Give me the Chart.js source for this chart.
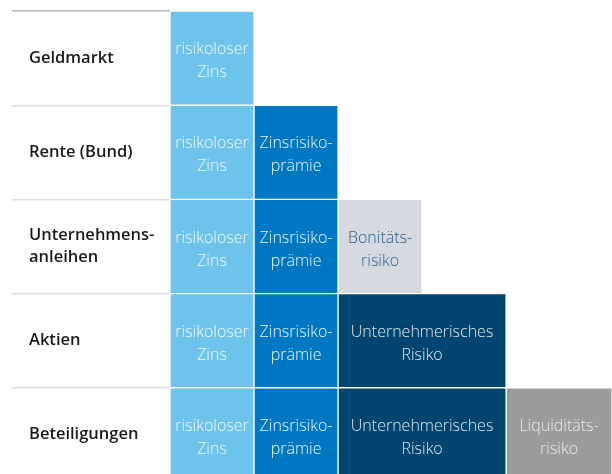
<!DOCTYPE html>
<html>
<head>
<meta charset="utf-8">
<script src="https://cdn.jsdelivr.net/npm/chart.js@4.4.1/dist/chart.umd.min.js"></script>
<style>
html, body { margin: 0; padding: 0; overflow: hidden; background: #fff; }
canvas { display: block; }
</style>
</head>
<body>
<canvas id="chart" width="612" height="493"></canvas>
<script>
// Zeilen (Anlageklassen)
const categories = ['Geldmarkt', 'Rente (Bund)', ['Unternehmens-', 'anleihen'], 'Aktien', 'Beteiligungen'];

// Risikobausteine je Zeile (Breite in Bausteinen)
const risikolos = [1, 1, 1, 1, 1];
const zinsrisiko = [null, 1, 1, 1, 1];
const bonitaet = [null, null, 1, null, null];
const unternehmerisch = [null, null, null, 2, 2];
const liquiditaet = [null, null, null, null, 1.26];

const segmentLabels = [
    ['risikoloser', 'Zins'],
    ['Zinsrisiko-', 'prämie'],
    ['Bonitäts-', 'risiko'],
    ['Unternehmerisches', 'Risiko'],
    ['Liquiditäts-', 'risiko']
];
const segmentColors = ['#6ec3ea', '#0078c1', '#d5dae0', '#00456f', '#9b9b9b'];
const textColors = ['rgba(255,255,255,0.92)', 'rgba(255,255,255,0.92)', '#2b5e88', 'rgba(255,255,255,0.88)', '#ececec'];

// Beschriftung mitten in die Bausteine schreiben
const barText = {
    id: 'barText',
    afterDatasetsDraw(chart) {
        const ctx = chart.ctx;
        ctx.save();
        ctx.font = '300 16px "Open Sans"';
        ctx.textAlign = 'center';
        ctx.textBaseline = 'middle';
        chart.data.datasets.forEach((ds, i) => {
            const meta = chart.getDatasetMeta(i);
            meta.data.forEach((bar, j) => {
                if (ds.data[j] == null) return;
                const cx = (bar.x + bar.base) / 2;
                const lines = segmentLabels[i];
                ctx.fillStyle = textColors[i];
                lines.forEach((t, k) => {
                    ctx.fillText(t, cx, bar.y + 3 + (k - (lines.length - 1) / 2) * 23);
                });
            });
        });
        ctx.restore();
    }
};

const sets = [risikolos, zinsrisiko, bonitaet, unternehmerisch, liquiditaet];

new Chart(document.getElementById('chart').getContext('2d'), {
    type: 'bar',
    data: {
        labels: categories,
        datasets: sets.map((d, i) => ({
            label: segmentLabels[i].join(''),
            data: d,
            backgroundColor: segmentColors[i],
            borderColor: '#ffffff',
            borderWidth: 1,
            borderSkipped: false,
            barPercentage: 1,
            categoryPercentage: 1
        }))
    },
    options: {
        indexAxis: 'y',
        responsive: false,
        animation: false,
        layout: { padding: { left: 29, top: 11, right: 0, bottom: 0 } },
        scales: {
            x: { stacked: true, display: false, min: 0, max: 5.26 },
            y: {
                stacked: true,
                border: { display: false },
                grid: {
                    drawOnChartArea: false,
                    drawTicks: true,
                    offset: true,
                    tickLength: 158,
                    lineWidth: 1.5,
                    color: (c) => c.index === 0 ? '#b8b8b8' : '#d9dde3'
                },
                ticks: {
                    crossAlign: 'far',
                    padding: 0,
                    color: '#1a1a1a',
                    font: { family: 'Open Sans', size: 16.5, weight: '600', lineHeight: 1.35 }
                },
                afterFit: (s) => { s.width = 141; }
            }
        },
        plugins: {
            legend: { display: false },
            tooltip: { enabled: false }
        }
    },
    plugins: [barText]
});
</script>
</body>
</html>
